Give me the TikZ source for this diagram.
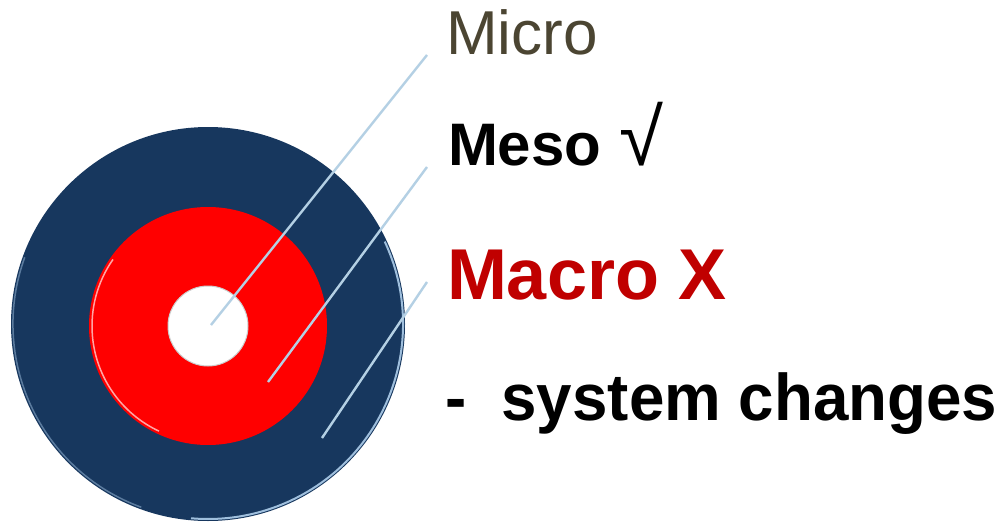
\documentclass[tikz,border=0pt]{standalone}
\usepackage{fontspec}
\setmainfont{Liberation Sans}
\definecolor{navy}{HTML}{17375E}
\definecolor{rim}{HTML}{9FBFDD}
\definecolor{leader}{HTML}{B4D0E4}
\definecolor{microcol}{HTML}{4B4532}
\definecolor{macrored}{HTML}{C00000}
\definecolor{ringred}{HTML}{FF0000}
\tikzset{
  leadline/.style={draw=leader, line width=2.4pt},
  label/.style={anchor=base west, inner sep=0pt, outer sep=0pt},
}
\begin{document}
\begin{tikzpicture}[x=1pt,y=-1pt]
\useasboundingbox[fill=white] (0,0) rectangle (1005,527);
% target (angles run clockwise here since y points down)
\fill[navy] (208,324) circle (197);
\draw[rim, line width=2pt] (208,324) ++(-25:195) arc (-25:95:195);
\draw[rim!50!navy, line width=1.5pt] (208,324) ++(110:195) arc (110:200:195);
\fill[ringred] (208,326) circle (119);
\draw[white!65!ringred, line width=1.5pt] (208,326) ++(115:116) arc (115:215:116);
\fill[white] (208,326) circle (40);
\draw[gray!40, line width=1pt] (208,326) circle (40);
% leader coordinates
\coordinate (p1) at (211,325);
\coordinate (q1) at (427,55);
\coordinate (p2) at (268,382);
\coordinate (q2) at (427,167);
\coordinate (p3) at (322,438);
\coordinate (q3) at (427,282);
\draw[leadline] (p1) -- (q1);
\draw[leadline] (p2) -- (q2);
\draw[leadline] (p3) -- (q3);
% labels
\node[label, text=microcol] (micro) at (446,55) {\fontsize{62}{70}\selectfont Micro};
\node[label, text=black] (meso) at (448,165) {\fontsize{60}{70}\selectfont\bfseries Meso\hspace{0.3em}{\fontsize{80}{80}\selectfont\mdseries √}};
\node[label, text=macrored] (macro) at (447,299) {\fontsize{72}{80}\selectfont\bfseries Macro X};
\node[label, text=black] (sys) at (445,420) {\scalebox{0.965}[1]{\fontsize{66}{75}\selectfont\bfseries -~~system changes}};
\end{tikzpicture}
\end{document}
